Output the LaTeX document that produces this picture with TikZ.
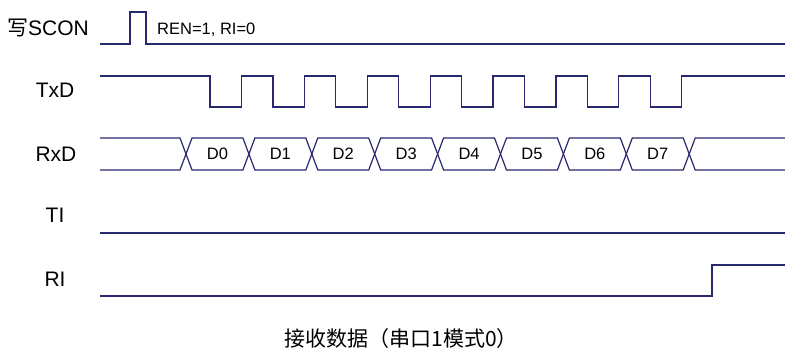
\documentclass[tikz,border=0pt]{standalone}
\usepackage{fontspec}
\setmainfont{Liberation Sans}
\newfontfamily\cjk{Noto Sans CJK SC}
\usetikzlibrary{positioning}
\definecolor{wave}{RGB}{40,40,110}

\begin{document}
\begin{tikzpicture}[
    x=1pt, y=-1pt,
    sig/.style={draw=wave, line width=1.2pt, line join=miter},
    lbl/.style={font=\fontsize{21}{21}\selectfont, inner sep=0pt, anchor=base},
    bit/.style={font=\fontsize{16.5}{16.5}\selectfont, inner sep=0pt, anchor=base},
    note/.style={font=\fontsize{16.5}{16.5}\selectfont, inner sep=0pt, anchor=base west}
]
    \useasboundingbox (0,0) rectangle (785,352);

    % signal names
    \node[lbl] (scon) at (48,36) {{\cjk 写}SCON};
    \node[lbl] (txd) at (55,98) {TxD};
    \node[lbl] (rxd) at (56,162) {RxD};
    \node[lbl] (ti) at (55,223) {TI};
    \node[lbl] (ri) at (55,287) {RI};

    % SCON write pulse
    \draw[sig] (100,44) -- (130,44) -- (130,12) -- (146,12) -- (146,44) -- (785,44);
    \node[note] (ren) at (157,35) {REN=1, RI=0};

    % shift clock on TxD
    \draw[sig] (100,76) foreach \i in {0,...,7} {
        -- ({210+62.9*\i},76) -- ({210+62.9*\i},107)
        -- ({241.4+62.9*\i},107) -- ({241.4+62.9*\i},76)
    } -- (785,76);

    % data bits on RxD
    \draw[sig] (100,138) -- (180,138) -- (186,154) -- (180,170) -- (100,170);
    \foreach \i in {0,...,7} {
        \pgfmathsetmacro\a{186+62.9*\i}
        \pgfmathsetmacro\b{\a+62.9}
        \draw[sig] (\a,154) -- (\a+6,138) -- (\b-6,138) -- (\b,154)
            -- (\b-6,170) -- (\a+6,170) -- cycle;
        \node[bit] (d\i) at (\a+31.45,160) {D\i};
    }
    \draw[sig] (785,138) -- (695.2,138) -- (689.2,154) -- (695.2,170) -- (785,170);

    % flags
    \draw[sig] (100,233) -- (785,233);
    \draw[sig] (100,296) -- (712,296) -- (712,265) -- (785,265);

    \node[font=\cjk\fontsize{21}{21}\selectfont, inner sep=0pt, anchor=base] (caption)
        at (401,347) {接收数据（串口1模式0）};
\end{tikzpicture}
\end{document}
